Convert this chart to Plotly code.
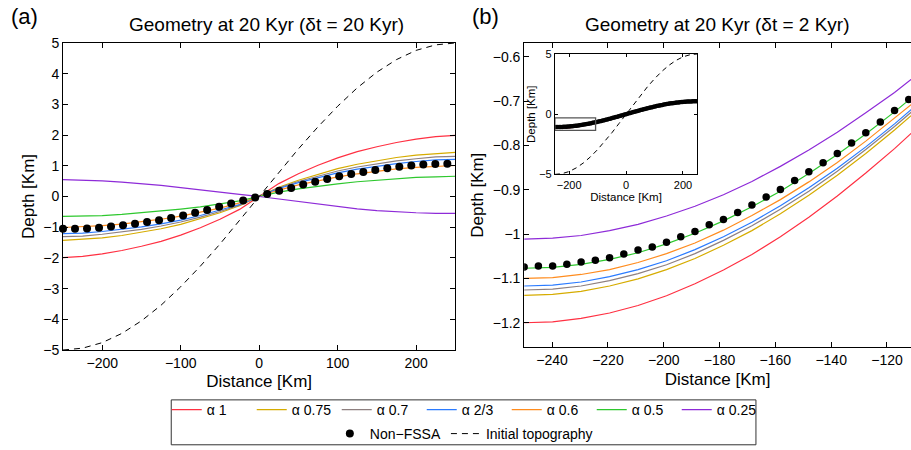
import plotly.graph_objects as go

# ---------------- data ----------------
alpha_names = ["α 1", "α 0.75", "α 0.7", "α 2/3", "α 0.6", "α 0.5", "α 0.25"]
alpha_colors = ["#FF3042", "#D6AC00", "#8E8080", "#2B7BFF", "#FF8C1E", "#2EC82E", "#8E2BD8"]

# Panel (a): geometry at 20 Kyr, dt = 20 Kyr
dist_a = [-250, -225, -200, -175, -150, -125, -100, -75, -50, -25, 0,
          25, 50, 75, 100, 125, 150, 175, 200, 225, 250]
a_alpha_1 = [-1.99, -1.95, -1.87, -1.76, -1.62, -1.46, -1.26, -1.02, -0.74, -0.42, 0.00,
             0.42, 0.74, 1.02, 1.26, 1.46, 1.62, 1.76, 1.87, 1.95, 1.99]
a_alpha_075 = [-1.43, -1.40, -1.35, -1.27, -1.17, -1.05, -0.91, -0.73, -0.53, -0.30, 0.00,
               0.30, 0.53, 0.73, 0.91, 1.05, 1.17, 1.27, 1.35, 1.40, 1.44]
a_alpha_07 = [-1.31, -1.29, -1.23, -1.16, -1.07, -0.96, -0.83, -0.67, -0.49, -0.28, 0.00,
              0.28, 0.49, 0.67, 0.83, 0.96, 1.07, 1.16, 1.23, 1.29, 1.31]
a_alpha_23 = [-1.21, -1.19, -1.14, -1.07, -0.99, -0.89, -0.77, -0.62, -0.45, -0.26, 0.00,
              0.26, 0.45, 0.62, 0.77, 0.89, 0.99, 1.07, 1.14, 1.19, 1.21]
a_alpha_06 = [-1.01, -0.99, -0.95, -0.90, -0.83, -0.74, -0.64, -0.52, -0.38, -0.21, 0.00,
              0.21, 0.38, 0.52, 0.64, 0.74, 0.83, 0.90, 0.95, 0.99, 1.01]
a_alpha_05 = [-0.65, -0.64, -0.62, -0.58, -0.53, -0.48, -0.41, -0.34, -0.25, -0.14, 0.00,
              0.14, 0.25, 0.34, 0.41, 0.48, 0.53, 0.58, 0.62, 0.64, 0.66]
a_alpha_025 = [0.55, 0.54, 0.51, 0.47, 0.42, 0.36, 0.29, 0.21, 0.14, 0.07, 0.00,
               -0.08, -0.16, -0.25, -0.33, -0.40, -0.46, -0.50, -0.53, -0.55, -0.55]
initial_topo = [-5.00, -4.94, -4.76, -4.46, -4.05, -3.54, -2.94, -2.27, -1.55, -0.78, 0.00,
                0.78, 1.55, 2.27, 2.94, 3.54, 4.05, 4.46, 4.76, 4.94, 5.00]

a_nonfssa_x = [-250.0, -234.7, -219.4, -204.1, -188.8, -173.5, -158.2, -142.9, -127.6, -112.2,
               -96.9, -81.6, -66.3, -51.0, -35.7, -20.4, -5.1, 10.2, 25.5, 40.8, 56.1, 71.4,
               86.7, 102.0, 117.3, 132.7, 148.0, 163.3, 178.6, 193.9, 209.2, 224.5, 239.8]
a_nonfssa_y = [-1.05, -1.05, -1.04, -1.02, -0.98, -0.94, -0.89, -0.83, -0.77, -0.70,
               -0.62, -0.53, -0.44, -0.33, -0.23, -0.13, -0.03, 0.08, 0.19, 0.28, 0.39, 0.48,
               0.57, 0.66, 0.73, 0.80, 0.86, 0.92, 0.97, 1.01, 1.04, 1.06, 1.07]

# Panel (b): geometry at 20 Kyr, dt = 2 Kyr
dist_b = [-250.0, -239.8, -229.6, -219.4, -209.2, -199.0, -188.8, -178.6, -168.4,
          -158.2, -148.0, -137.8, -127.6, -117.3, -107.1]
b_alpha_1 = [-1.200, -1.198, -1.190, -1.178, -1.161, -1.139, -1.112, -1.081, -1.046,
             -1.006, -0.962, -0.914, -0.862, -0.807, -0.748]
b_alpha_075 = [-1.138, -1.136, -1.129, -1.117, -1.101, -1.080, -1.055, -1.025, -0.992,
               -0.954, -0.912, -0.867, -0.818, -0.765, -0.709]
b_alpha_07 = [-1.126, -1.124, -1.117, -1.105, -1.089, -1.069, -1.044, -1.014, -0.981,
              -0.944, -0.903, -0.858, -0.809, -0.757, -0.702]
b_alpha_23 = [-1.117, -1.115, -1.108, -1.096, -1.080, -1.060, -1.035, -1.006, -0.973,
              -0.936, -0.895, -0.851, -0.803, -0.751, -0.696]
b_alpha_06 = [-1.100, -1.098, -1.091, -1.080, -1.064, -1.044, -1.020, -0.991, -0.958,
              -0.922, -0.882, -0.838, -0.790, -0.739, -0.686]
b_alpha_05 = [-1.077, -1.075, -1.068, -1.057, -1.042, -1.022, -0.998, -0.970, -0.938,
              -0.903, -0.863, -0.820, -0.774, -0.724, -0.671]
b_alpha_025 = [-1.011, -1.009, -1.003, -0.992, -0.978, -0.959, -0.937, -0.911, -0.881,
               -0.847, -0.810, -0.770, -0.726, -0.680, -0.630]

b_nonfssa_x = [-250.0, -244.9, -239.8, -234.7, -229.6, -224.5, -219.4, -214.3, -209.2, -204.1,
               -199.0, -193.9, -188.8, -183.7, -178.6, -173.5, -168.4, -163.3, -158.2, -153.1,
               -148.0, -142.9, -137.8, -132.7, -127.6, -122.4, -117.3, -112.2, -107.1, -102.0,
               -96.9, -91.8, -86.7, -81.6, -76.5, -71.4, -66.3, -61.2, -56.1, -51.0,
               -45.9, -40.8, -35.7, -30.6, -25.5, -20.4, -15.3, -10.2, -5.1, 0.0,
               5.1, 10.2, 15.3, 20.4, 25.5, 30.6, 35.7, 40.8, 45.9, 51.0,
               56.1, 61.2, 66.3, 71.4, 76.5, 81.6, 86.7, 91.8, 96.9, 102.0,
               107.1, 112.2, 117.3, 122.4, 127.6, 132.7, 137.8, 142.9, 148.0, 153.1,
               158.2, 163.3, 168.4, 173.5, 178.6, 183.7, 188.8, 193.9, 199.0, 204.1,
               209.2, 214.3, 219.4, 224.5, 229.6, 234.7, 239.8, 244.9, 250.0]
b_nonfssa_y = [-1.074, -1.072, -1.072, -1.068, -1.063, -1.059, -1.053, -1.045, -1.036, -1.029,
               -1.018, -1.006, -0.994, -0.979, -0.967, -0.951, -0.934, -0.916, -0.899, -0.879,
               -0.859, -0.839, -0.818, -0.794, -0.771, -0.747, -0.721, -0.696,
               -0.670, -0.643, -0.615, -0.586, -0.557, -0.528, -0.497, -0.466, -0.435, -0.403,
               -0.371, -0.339, -0.306, -0.273, -0.239, -0.205, -0.172, -0.137, -0.103, -0.069,
               -0.034, 0.000,
               0.034, 0.069, 0.103, 0.137, 0.172, 0.205, 0.239, 0.273, 0.306, 0.339,
               0.371, 0.403, 0.435, 0.466, 0.497, 0.528, 0.557, 0.586, 0.615, 0.643, 0.670,
               0.696, 0.721, 0.747, 0.771, 0.794, 0.818, 0.839, 0.859, 0.879, 0.899,
               0.916, 0.934, 0.951, 0.967, 0.979, 0.994, 1.006, 1.018, 1.029, 1.036,
               1.045, 1.053, 1.059, 1.063, 1.068, 1.072, 1.072, 1.074]

ticks_a_x = [-200, -100, 0, 100, 200]
ticks_b_x = [-240, -220, -200, -180, -160, -140, -120]
ticks_inset_x = [-200, 0, 200]
ticks_inset_y = [-5, 0, 5]

# ---------------- layout helpers ----------------
W, H = 911, 450
ML, MR, MT, MB = 63.3, 0, 43.3, 99
PW, PH = W - ML - MR, H - MT - MB
FONT = "Liberation Sans, Arial, Helvetica, sans-serif"


def fx(p):
    return (p - ML) / PW


def fy(p):
    return (H - MB - p) / PH


a_series = [a_alpha_1, a_alpha_075, a_alpha_07, a_alpha_23, a_alpha_06, a_alpha_05, a_alpha_025]
b_series = [b_alpha_1, b_alpha_075, b_alpha_07, b_alpha_23, b_alpha_06, b_alpha_05, b_alpha_025]

fig = go.Figure()

# panel (a)
for name, col, ys in zip(alpha_names, alpha_colors, a_series):
    fig.add_trace(go.Scatter(x=dist_a, y=ys, mode="lines", name=name,
                             line=dict(color=col, width=1.2), legend="legend",
                             xaxis="x", yaxis="y"))
fig.add_trace(go.Scatter(x=dist_a, y=initial_topo, mode="lines", name="Initial topography",
                         line=dict(color="black", width=1, dash="6px,5px"),
                         legend="legend2", legendrank=2, xaxis="x", yaxis="y"))
fig.add_trace(go.Scatter(x=a_nonfssa_x, y=a_nonfssa_y, mode="markers", name="Non−FSSA",
                         marker=dict(color="black", size=8), cliponaxis=False,
                         legend="legend2", legendrank=1, xaxis="x", yaxis="y"))

# panel (b)
for name, col, ys in zip(alpha_names, alpha_colors, b_series):
    fig.add_trace(go.Scatter(x=dist_b, y=ys, mode="lines", name=name, showlegend=False,
                             line=dict(color=col, width=1.2), xaxis="x2", yaxis="y2"))
fig.add_trace(go.Scatter(x=b_nonfssa_x, y=b_nonfssa_y, mode="markers", name="Non−FSSA",
                         showlegend=False, marker=dict(color="black", size=7.5),
                         xaxis="x2", yaxis="y2"))

# inset in panel (b)
for name, col, ys in zip(alpha_names, alpha_colors, b_series):
    fig.add_trace(go.Scatter(x=dist_b, y=ys, mode="lines", name=name, showlegend=False,
                             line=dict(color=col, width=1), xaxis="x3", yaxis="y3"))
fig.add_trace(go.Scatter(x=dist_a, y=initial_topo, mode="lines", name="Initial topography",
                         showlegend=False, line=dict(color="black", width=1, dash="5px,4px"),
                         xaxis="x3", yaxis="y3"))
fig.add_trace(go.Scatter(x=b_nonfssa_x, y=b_nonfssa_y, mode="markers", name="Non−FSSA",
                         showlegend=False, marker=dict(color="black", size=4.5),
                         xaxis="x3", yaxis="y3"))

axis_common = dict(showline=True, linecolor="black", linewidth=1, ticks="inside",
                   tickcolor="black", showgrid=False, zeroline=False,
                   tickfont=dict(family=FONT, size=14, color="black"))

fig.update_layout(
    width=W, height=H,
    margin=dict(l=ML, r=MR, t=MT, b=MB, pad=0),
    paper_bgcolor="white", plot_bgcolor="white",
    font=dict(family=FONT, color="black"),
    xaxis=dict(axis_common, domain=[0, fx(455.5)], range=[-250, 250], tickvals=ticks_a_x,
               ticklen=5, mirror="ticks", anchor="y",
               title=dict(text="Distance [Km]", font=dict(size=17), standoff=5)),
    yaxis=dict(axis_common, domain=[0, 1], range=[-5, 5], dtick=1, ticklen=5,
               mirror="ticks", anchor="x",
               title=dict(text="Depth [Km]", font=dict(size=17), standoff=4)),
    xaxis2=dict(axis_common, domain=[fx(524.3), 1], range=[-250, -111.4], tickvals=ticks_b_x,
                ticklen=5, mirror="ticks", anchor="y2",
                title=dict(text="Distance [Km]", font=dict(size=17), standoff=5)),
    yaxis2=dict(axis_common, domain=[fy(348.3), 1], range=[-1.2554, -0.5685], dtick=0.1,
                ticklen=5, mirror=False, anchor="x2",
                title=dict(text="Depth [Km]", font=dict(size=17), standoff=4)),
    xaxis3=dict(axis_common, domain=[fx(555), fx(697.3)], range=[-250, 250],
                tickvals=ticks_inset_x, ticklen=3, mirror="ticks", anchor="y3",
                tickfont=dict(family=FONT, size=11, color="black"),
                title=dict(text="Distance [Km]", font=dict(size=11.5), standoff=1)),
    yaxis3=dict(axis_common, domain=[fy(175), fy(54.3)], range=[-5, 5],
                tickvals=ticks_inset_y, ticklen=3, mirror="ticks", anchor="x3",
                tickfont=dict(family=FONT, size=11, color="black"),
                title=dict(text="Depth [Km]", font=dict(size=11.5), standoff=1)),
    legend=dict(orientation="h", x=fx(167), xanchor="left", y=fy(410),
                yanchor="middle", font=dict(family=FONT, size=14, color="black"),
                bgcolor="rgba(0,0,0,0)", borderwidth=0, itemwidth=30,
                entrywidth=40, entrywidthmode="pixels"),
    legend2=dict(orientation="h", x=fx(464), xanchor="center", y=fy(435),
                 yanchor="middle", font=dict(family=FONT, size=14, color="black"),
                 bgcolor="rgba(0,0,0,0)", borderwidth=0, itemwidth=30),
    annotations=[
        dict(text="Geometry at 20 Kyr (δt = 20 Kyr)", xref="paper", yref="paper",
             x=fx(267), y=fy(25), xanchor="center", yanchor="middle", showarrow=False,
             font=dict(family=FONT, size=19, color="black")),
        dict(text="Geometry at 20 Kyr (δt = 2 Kyr)", xref="paper", yref="paper",
             x=fx(717.7), y=fy(25), xanchor="center", yanchor="middle", showarrow=False,
             font=dict(family=FONT, size=19, color="black")),
        dict(text="(a)", xref="paper", yref="paper", x=fx(25), y=fy(17),
             xanchor="center", yanchor="middle", showarrow=False,
             font=dict(family=FONT, size=22, color="black")),
        dict(text="(b)", xref="paper", yref="paper", x=fx(486), y=fy(17),
             xanchor="center", yanchor="middle", showarrow=False,
             font=dict(family=FONT, size=22, color="black")),
    ],
    shapes=[
        dict(type="rect", xref="x3", yref="y3", x0=-250, x1=-107, y0=-1.35, y1=-0.3,
             line=dict(color="#555555", width=1.3)),
        dict(type="rect", xref="paper", yref="paper", x0=fx(171.5), x1=fx(756),
             y0=fy(446), y1=fy(401), line=dict(color="#333333", width=1)),
    ],
)

fig.write_html("out.html", post_script="document.body.style.margin='0';",
               config={"displayModeBar": False})
